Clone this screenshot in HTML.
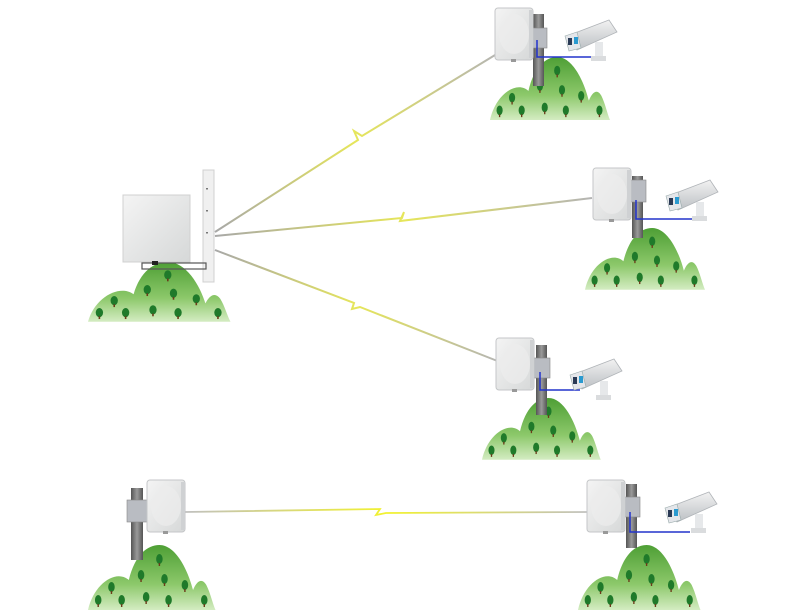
<!DOCTYPE html>
<html><head><meta charset="utf-8"><style>html,body{margin:0;padding:0;background:#fff}svg{display:block}</style></head>
<body>
<svg width="791" height="615" viewBox="0 0 791 615" xmlns="http://www.w3.org/2000/svg">
<defs>
<linearGradient id="hg" x1="0" y1="0" x2="0" y2="1"><stop offset="0" stop-color="#4e9f35"/><stop offset="0.6" stop-color="#8cc86a"/><stop offset="1" stop-color="#d4ecc2"/></linearGradient>
<linearGradient id="rg" x1="0" y1="0" x2="1" y2="1"><stop offset="0" stop-color="#f4f4f4"/><stop offset="1" stop-color="#d6d8d8"/></linearGradient>
<linearGradient id="pg" x1="0" y1="0" x2="1" y2="0"><stop offset="0" stop-color="#555"/><stop offset="0.5" stop-color="#9a9a9a"/><stop offset="1" stop-color="#555"/></linearGradient>
<linearGradient id="cg" x1="0" y1="0" x2="0" y2="1"><stop offset="0" stop-color="#f2f2f2"/><stop offset="1" stop-color="#bcc0c4"/></linearGradient>
<g id="tree"><ellipse cx="0" cy="0" rx="3.2" ry="5" fill="#1f7a2a"/><rect x="-0.7" y="4" width="1.4" height="3" fill="#6b3b1a"/></g>
<g id="hill">
<path d="M0,65 C6,38 28,24 40,35 C46,10 58,0 70,0 C86,0 98,25 103,45 C107,35 112,33 116,40 C120,48 122,58 125,65 Z" fill="url(#hg)"/>
<use href="#tree" x="70" y="14"/><use href="#tree" x="52" y="30"/><use href="#tree" x="75" y="34"/><use href="#tree" x="95" y="40"/>
<use href="#tree" x="23" y="42"/><use href="#tree" x="10" y="55"/><use href="#tree" x="33" y="55"/><use href="#tree" x="57" y="52"/><use href="#tree" x="79" y="55"/><use href="#tree" x="114" y="55"/>
</g>
<g id="radio"><rect x="0" y="0" width="38" height="52" rx="3" fill="url(#rg)" stroke="#c4c6c8" stroke-width="1"/><ellipse cx="19" cy="26" rx="15" ry="20" fill="#ececec" opacity="0.7"/><rect x="34" y="2" width="4" height="48" fill="#cfd1d3"/><rect x="16" y="51" width="5" height="3" fill="#999"/></g>
<g id="cam"><polygon points="2,20 44,4 52,16 12,34" fill="url(#cg)" stroke="#b0b4b8" stroke-width="0.8"/><polygon points="0,20 12,16 16,32 4,35" fill="#e4e6ea" stroke="#9aa" stroke-width="0.6"/><rect x="3" y="22" width="4" height="7" fill="#2a3a55"/><rect x="9" y="21" width="4" height="7" fill="#2a9ad0"/><rect x="30" y="26" width="8" height="16" fill="#e6e8ea"/><rect x="26" y="40" width="15" height="5" fill="#dadcde"/></g>
<linearGradient id="lg1" gradientUnits="userSpaceOnUse" x1="215" y1="232" x2="500" y2="55"><stop offset="0" stop-color="#a8a8a8"/><stop offset="0.5" stop-color="#e6e65a"/><stop offset="1" stop-color="#b4b4b4"/></linearGradient>
<linearGradient id="lg2" gradientUnits="userSpaceOnUse" x1="215" y1="236" x2="592" y2="198"><stop offset="0" stop-color="#a8a8a8"/><stop offset="0.5" stop-color="#e6e65a"/><stop offset="1" stop-color="#b4b4b4"/></linearGradient>
<linearGradient id="lg3" gradientUnits="userSpaceOnUse" x1="215" y1="250" x2="500" y2="362"><stop offset="0" stop-color="#a8a8a8"/><stop offset="0.5" stop-color="#e6e65a"/><stop offset="1" stop-color="#b4b4b4"/></linearGradient>
<linearGradient id="lg4" gradientUnits="userSpaceOnUse" x1="185" y1="512" x2="588" y2="512"><stop offset="0" stop-color="#c0c0c0"/><stop offset="0.5" stop-color="#f2f230"/><stop offset="1" stop-color="#c0c0c0"/></linearGradient>
</defs>

<polyline points="215,232 358,140 354,131 362,136 500,52" fill="none" stroke="url(#lg1)" stroke-width="2"/>
<polyline points="215,236 402,218 404,212 400,221 592,198" fill="none" stroke="url(#lg2)" stroke-width="2"/>
<polyline points="215,250 354,303 352,309 360,307 500,362" fill="none" stroke="url(#lg3)" stroke-width="2"/>
<polyline points="185,512 380,509 376,515 386,513 588,512" fill="none" stroke="url(#lg4)" stroke-width="1.8"/>

<use href="#hill" transform="translate(88,262) scale(1.14,0.92)"/>
<rect x="203" y="170" width="11" height="112" fill="#f0f0f0" stroke="#d0d0d0"/>
<rect x="206" y="188" width="2" height="1.5" fill="#777"/><rect x="206" y="210" width="2" height="1.5" fill="#777"/><rect x="206" y="232" width="2" height="1.5" fill="#777"/>
<rect x="123" y="195" width="67" height="67" fill="url(#rg)" stroke="#d0d0d0"/>
<rect x="142" y="263" width="64" height="6" fill="none" stroke="#555" stroke-width="1.2"/>
<rect x="152" y="261" width="6" height="4" fill="#222"/>

<use href="#hill" transform="translate(490,57) scale(0.96,0.97)"/>
<rect x="533" y="14" width="11" height="72" fill="url(#pg)"/>
<rect x="530" y="28" width="17" height="20" fill="#b9bcc2" stroke="#888" stroke-width="0.6"/>
<use href="#radio" transform="translate(495,8)"/>
<polyline points="537,40 537,57 592,57" fill="none" stroke="#2233cc" stroke-width="1.5"/>
<use href="#cam" transform="translate(565,16)"/>

<use href="#hill" transform="translate(585,228) scale(0.96,0.95)"/>
<rect x="632" y="176" width="11" height="62" fill="url(#pg)"/>
<rect x="629" y="180" width="17" height="22" fill="#b9bcc2" stroke="#888" stroke-width="0.6"/>
<use href="#radio" transform="translate(593,168)"/>
<polyline points="636,200 636,219 692,219" fill="none" stroke="#2233cc" stroke-width="1.5"/>
<use href="#cam" transform="translate(666,176)"/>

<use href="#hill" transform="translate(482,398) scale(0.95,0.95)"/>
<rect x="536" y="345" width="11" height="70" fill="url(#pg)"/>
<rect x="533" y="358" width="17" height="20" fill="#b9bcc2" stroke="#888" stroke-width="0.6"/>
<use href="#radio" transform="translate(496,338)"/>
<polyline points="540,372 540,390 580,390" fill="none" stroke="#2233cc" stroke-width="1.5"/>
<use href="#cam" transform="translate(570,355)"/>

<use href="#hill" transform="translate(578,545) scale(0.98,1)"/>
<rect x="626" y="484" width="11" height="64" fill="url(#pg)"/>
<rect x="623" y="497" width="17" height="20" fill="#b9bcc2" stroke="#888" stroke-width="0.6"/>
<use href="#radio" transform="translate(587,480)"/>
<polyline points="630,512 630,532 690,532" fill="none" stroke="#2233cc" stroke-width="1.5"/>
<use href="#cam" transform="translate(665,488)"/>

<use href="#hill" transform="translate(88,545) scale(1.02,1)"/>
<rect x="131" y="488" width="12" height="72" fill="url(#pg)"/>
<rect x="127" y="500" width="20" height="22" fill="#b9bcc2" stroke="#888" stroke-width="0.6"/>
<use href="#radio" transform="translate(147,480)"/>
</svg>
</body></html>
